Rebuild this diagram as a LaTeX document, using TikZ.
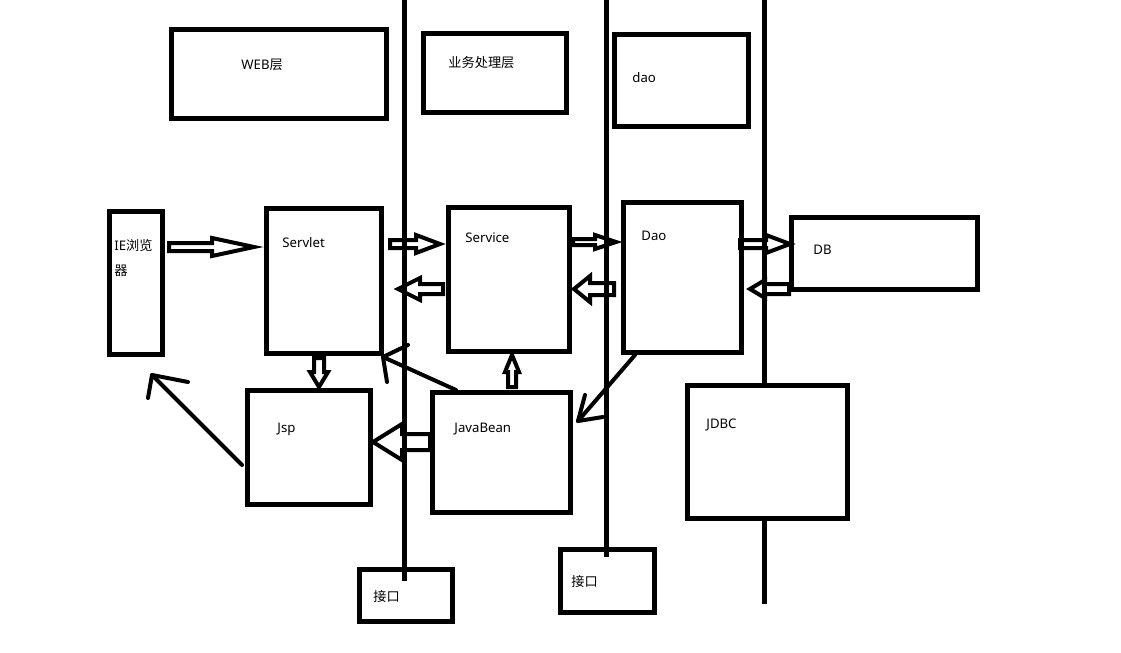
\documentclass[tikz,border=0pt]{standalone}
\usepackage{fontspec}
\setmainfont{Noto Sans}
\newfontfamily\cjk{Noto Sans CJK SC}
\usetikzlibrary{fit}
% hollow block arrows: start, head base, tip, axis, shaft half, head half
\newcommand{\harr}[6]{\draw[blk] (#1,#4-#5)--(#2,#4-#5)--(#2,#4-#6)--(#3,#4)--(#2,#4+#6)--(#2,#4+#5)--(#1,#4+#5)--cycle;}
\newcommand{\varr}[6]{\draw[blk] (#4-#5,#1)--(#4-#5,#2)--(#4-#6,#2)--(#4,#3)--(#4+#6,#2)--(#4+#5,#2)--(#4+#5,#1)--cycle;}
\begin{document}
\begin{tikzpicture}[x=0.5pt,y=-0.5pt,
  box/.style={draw,line width=2.5pt,inner sep=0pt},
  lbl/.style={anchor=base west,inner sep=0pt,font=\fontsize{6.6}{8}\selectfont},
  blk/.style={line width=2pt,line join=miter},
  thin/.style={line width=2pt,line cap=round,line join=round},
  sep/.style={line width=2.5pt}]
\useasboundingbox (0,0) rectangle (1121,653);
% layer boxes
\node[box,fit={(171,29) (386,118)}] (web) {};
\node[box,fit={(423,33) (566,112)}] (biz) {};
\node[box,fit={(614,34) (748,126)}] (daolayer) {};
% components
\node[box,fit={(109,211) (162,354)}] (ie) {};
\node[box,fit={(266,208) (381,353)}] (servlet) {};
\node[box,fit={(448,207) (569,351)}] (service) {};
\node[box,fit={(623,202) (741,352)}] (dao) {};
\node[box,fit={(791,217) (977,289)}] (db) {};
\node[box,fit={(247,390) (370,504)}] (jsp) {};
\node[box,fit={(432,392) (570,512)}] (bean) {};
\node[box,fit={(359,569) (452,621)}] (if1) {};
\node[box,fit={(560,549) (654,612)}] (if2) {};
% block arrows
\harr{169}{212}{254}{247}{4}{9}
\harr{390}{416}{440}{244}{4}{9}
\harr{443}{420}{398}{289}{5}{11}
\harr{573}{595}{616}{242}{3}{7}
\harr{614}{590}{574}{289}{6}{13}
\harr{740}{766}{790}{244}{4}{9}
\harr{789}{765}{750}{289}{5}{9}
\harr{430}{402}{373}{442}{8}{18}
\varr{358}{372}{387}{319}{5}{9}
\varr{387}{372}{355}{512}{4}{7}
% layer separators
\coordinate[] (L1top) at (404,0);
\coordinate[] (L1bot) at (404,581);
\coordinate[] (L2top) at (606,0);
\coordinate[] (L2bot) at (606,557);
\coordinate[] (L3top) at (764,0);
\coordinate[] (L3bot) at (764,604);
\draw[sep] (L1top)--(L1bot);
\draw[sep] (L2top)--(L2bot);
\draw[sep] (L3top)--(L3bot);
\node[box,fill=white,fit={(687,385) (847,518)}] (jdbc) {};
% thin arrows
\coordinate[] (A1) at (242,465);
\coordinate[] (A2) at (152,375);
\coordinate[] (A3) at (188,382);
\coordinate[] (A4) at (148,398);
\coordinate[] (B1) at (456,390);
\coordinate[] (B2) at (383,357);
\coordinate[] (B3) at (408,345);
\coordinate[] (B4) at (387,382);
\coordinate[] (C1) at (635,355);
\coordinate[] (C2) at (578,421);
\coordinate[] (C3) at (585,395);
\coordinate[] (C4) at (603,417);
\draw[thin] (A1)--(A2);
\draw[thin] (A3)--(A2)--(A4);
\draw[thin] (B1)--(B2);
\draw[thin] (B3)--(B2)--(B4);
\draw[thin] (C1)--(C2);
\draw[thin] (C3)--(C2)--(C4);
% labels
\node[lbl] (tweb) at (241,69) {WEB{\cjk 层}};
\node[lbl] (tbiz) at (448,68) {\cjk 业务处理层};
\node[lbl] (tdaolayer) at (632,83) {dao};
\node[lbl] (tie) at (114,250) {IE{\cjk 浏览}};
\node[lbl] (tie2) at (114,275) {\cjk 器};
\node[lbl] (tservlet) at (282,247) {Servlet};
\node[lbl] (tservice) at (465,242) {Service};
\node[lbl] (tdao) at (641,240) {Dao};
\node[lbl] (tdb) at (813,254) {DB};
\node[lbl] (tjsp) at (277,432) {Jsp};
\node[lbl] (tbean) at (454,432) {JavaBean};
\node[lbl] (tjdbc) at (706,428) {JDBC};
\node[lbl] (tif1) at (373,601) {\cjk 接口};
\node[lbl] (tif2) at (571,586) {\cjk 接口};
\end{tikzpicture}
\end{document}
